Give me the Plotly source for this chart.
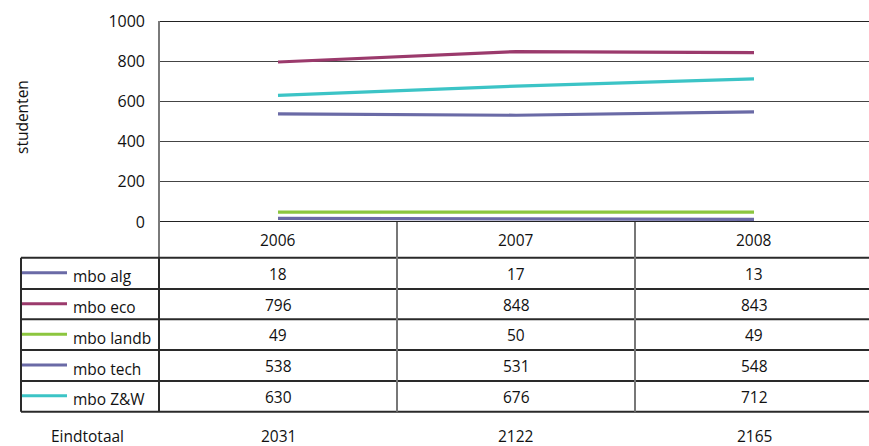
import plotly.graph_objects as go

# Student counts per MBO sector
years = ["2006", "2007", "2008"]
series_names = ["mbo alg", "mbo eco", "mbo landb", "mbo tech", "mbo Z&W"]
mbo_alg = [18, 17, 13]
mbo_eco = [796, 848, 843]
mbo_landb = [49, 50, 49]
mbo_tech = [538, 531, 548]
mbo_zw = [630, 676, 712]
y_ticks = [0, 200, 400, 600, 800, 1000]
total_label = "Eindtotaal"

series_values = [mbo_alg, mbo_eco, mbo_landb, mbo_tech, mbo_zw]
series_colors = ["#6a6aa6", "#9b3a6c", "#8cc63f", "#6a6aa6", "#3cc4c6"]
totals = [sum(v[i] for v in series_values) for i in range(len(years))]

W, H = 869, 446
L, T, R, B = 159, 21, 0, 224
PW, PH = W - L - R, H - T - B
FONT = "Open Sans"
FS = 15.5
TXT = "#111111"


def px(xp):
    return (xp - L) / PW


def py(yp):
    return (T + PH - yp) / PH


def label(x, y, text, xref="paper", xanchor="center", angle=0):
    return dict(x=x, y=y, xref=xref, yref="paper", text=text, showarrow=False,
                xanchor=xanchor, yanchor="middle", textangle=angle,
                font=dict(family=FONT, size=FS, color=TXT))


fig = go.Figure()
for name, vals, col in zip(series_names, series_values, series_colors):
    fig.add_trace(go.Scatter(x=years, y=vals, mode="lines", name=name,
                             line=dict(color=col, width=3.2), showlegend=False))

shapes = []
ann = []

# top and bottom chart borders
for yv in (0, 1000):
    shapes.append(dict(type="line", xref="paper", yref="y", x0=0, x1=1, y0=yv, y1=yv,
                       line=dict(color="#222222", width=2)))
# left axis line running down through the header row
shapes.append(dict(type="line", xref="paper", yref="paper", x0=0, x1=0,
                   y0=py(411.5), y1=1, line=dict(color="#7a7a7a", width=2)))

# data table layout (pixel rows)
row_lines = [257.7, 289, 319.3, 350, 381, 411.7]
for yl in row_lines:
    shapes.append(dict(type="line", xref="paper", yref="paper", x0=px(21), x1=1,
                       y0=py(yl), y1=py(yl), line=dict(color="#2a2a2a", width=2)))
shapes.append(dict(type="line", xref="paper", yref="paper", x0=px(21), x1=px(21),
                   y0=py(411.7), y1=py(257.7), line=dict(color="#2a2a2a", width=2)))
shapes.append(dict(type="line", xref="paper", yref="paper", x0=0, x1=0,
                   y0=py(411.7), y1=py(257.7), line=dict(color="#2a2a2a", width=2)))
for xc in (0.5, 1.5):
    shapes.append(dict(type="line", xref="x", yref="paper", x0=xc, x1=xc,
                       y0=py(411.7), y1=py(222), line=dict(color="#777777", width=2)))

# column headers
for i, yr in enumerate(years):
    ann.append(label(i, py(239.5), yr, xref="x"))

# series rows with legend keys
for r, (name, vals, col) in enumerate(zip(series_names, series_values, series_colors)):
    yc = (row_lines[r] + row_lines[r + 1]) / 2
    shapes.append(dict(type="line", xref="paper", yref="paper", x0=px(22), x1=px(67),
                       y0=py(yc - 0.5), y1=py(yc - 0.5), line=dict(color=col, width=3)))
    ann.append(label(px(71), py(yc + 3), name, xanchor="left"))
    for i, v in enumerate(vals):
        ann.append(label(i, py(yc + 0.5), str(v), xref="x"))

# totals row
ann.append(label(px(87), py(436), total_label))
for i, t in enumerate(totals):
    ann.append(label(i, py(436), str(t), xref="x"))

# y axis title
ann.append(label(px(22), py(117), "studenten", angle=-90))

fig.update_layout(
    width=W, height=H,
    margin=dict(l=L, t=T, r=R, b=B),
    paper_bgcolor="white", plot_bgcolor="white",
    shapes=shapes, annotations=ann,
    xaxis=dict(type="category", range=[-0.5, 2.5 - 4 / 238], showticklabels=False,
               showgrid=False, zeroline=False, showline=False, ticks=""),
    yaxis=dict(range=[0, 1000], tickvals=y_ticks, showgrid=True, gridcolor="#444444",
               gridwidth=1.2, zeroline=False, showline=False, ticks="",
               ticklabelstandoff=13,
               tickfont=dict(family=FONT, size=FS + 0.5, color=TXT)),
)

fig.write_html("out.html")
